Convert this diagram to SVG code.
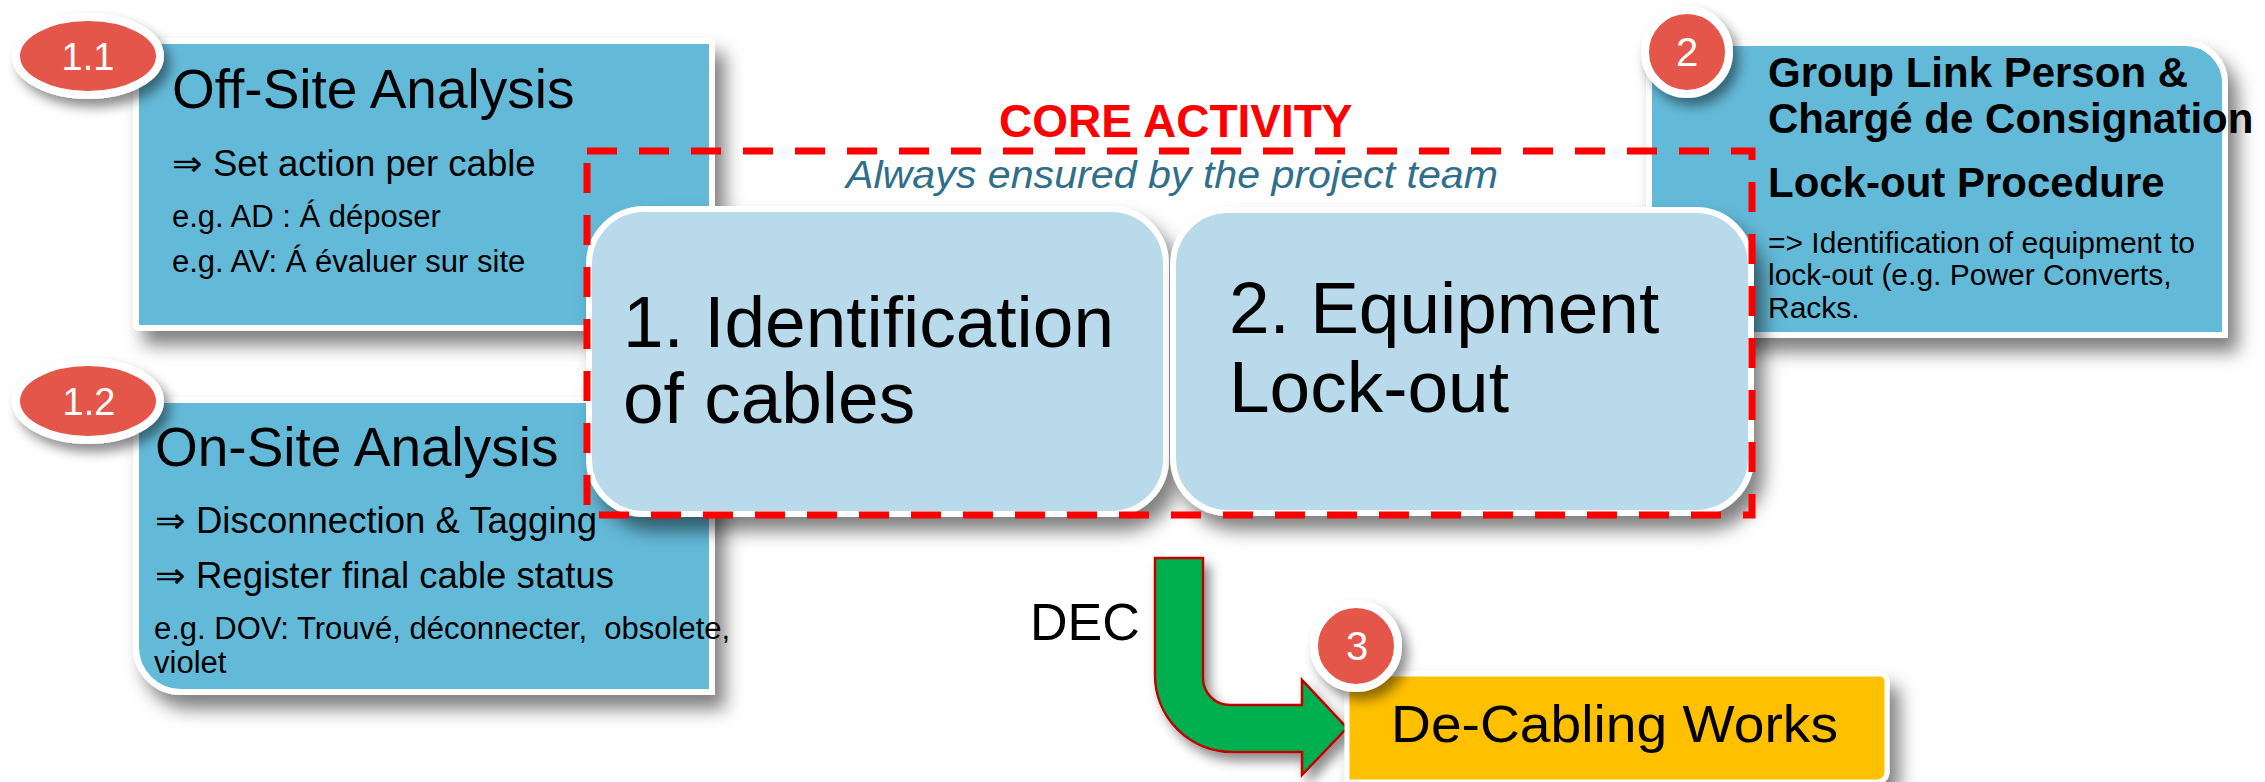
<svg xmlns="http://www.w3.org/2000/svg" width="2265" height="782" viewBox="0 0 2265 782">
<defs>
<style>
text{font-family:"Liberation Sans",Arial,sans-serif;fill:#000}
.box{fill:#64B9D8;stroke:#fff;stroke-width:6}
.node{fill:#B8DAEA;stroke:#fff;stroke-width:6}
.badge{fill:#E4564A;stroke:#fff;stroke-width:8}
.bt{fill:#fff;font-size:38px;text-anchor:middle}
.title{font-size:55px}
.item{font-size:36.5px}
.eg{font-size:31px}
.big{font-size:73px}
.b2{font-size:42px;font-weight:bold}
.sm{font-size:30px}
.arr{font-family:"DejaVu Sans",sans-serif}
</style>
<filter id="sh" x="-20%" y="-20%" width="150%" height="160%">
<feDropShadow dx="10" dy="14" stdDeviation="9" flood-color="#000" flood-opacity="0.5"/>
</filter>
<filter id="shs" x="-30%" y="-30%" width="170%" height="170%">
<feDropShadow dx="6" dy="8" stdDeviation="6" flood-color="#000" flood-opacity="0.45"/>
</filter>
</defs>
<rect width="2265" height="782" fill="#fff"/>

<g id="box-1-1">
<rect class="box" x="136" y="41" width="576" height="287" rx="4" filter="url(#sh)"/>
<text class="title" x="172" y="108">Off-Site Analysis</text>
<text class="item" y="176"><tspan class="arr" x="172">⇒</tspan><tspan x="213">Set action per cable</tspan></text>
<text class="eg" x="172" y="227">e.g. AD : Á déposer</text>
<text class="eg" x="172" y="272">e.g. AV: Á évaluer sur site</text>
</g>

<g id="box-1-2">
<path class="box" d="M136,400 H712 V692 H181 A45,45 0 0 1 136,647 Z" filter="url(#sh)"/>
<text class="title" x="155" y="466">On-Site Analysis</text>
<text class="item" y="533"><tspan class="arr" x="155">⇒</tspan><tspan x="196">Disconnection &amp; Tagging</tspan></text>
<text class="item" y="588"><tspan class="arr" x="155">⇒</tspan><tspan x="196">Register final cable status</tspan></text>
<text class="eg" x="154" y="639" xml:space="preserve">e.g. DOV: Trouvé, déconnecter,  obsolete,</text>
<text class="eg" x="154" y="673">violet</text>
</g>

<g id="box-2">
<path class="box" d="M1649,43 H2185 A40,40 0 0 1 2225,83 V335 H1649 Z" filter="url(#sh)"/>
<text class="b2" x="1768" y="87">Group Link Person &amp;</text>
<text class="b2" x="1768" y="133">Chargé de Consignation</text>
<text class="b2" x="1768" y="197">Lock-out Procedure</text>
<text class="sm" x="1768" y="253">=&gt; Identification of equipment to</text>
<text class="sm" x="1768" y="285">lock-out (e.g. Power Converts,</text>
<text class="sm" x="1768" y="318">Racks.</text>
</g>

<g id="node-1">
<rect class="node" x="589" y="209" width="577" height="305" rx="55" filter="url(#sh)"/>
<text class="big" x="623" y="347">1. Identification</text>
<text class="big" x="623" y="423">of cables</text>
</g>

<g id="node-2">
<rect class="node" x="1173" y="210" width="578" height="303" rx="55" filter="url(#sh)"/>
<text class="big" x="1229" y="333">2. Equipment</text>
<text class="big" x="1229" y="412">Lock-out</text>
</g>

<g id="core-activity">
<rect x="587" y="151" width="1165" height="364" fill="none" stroke="#FF0000" stroke-width="7" stroke-dasharray="30 22"/>
<text x="999" y="137" style="font-size:46px;font-weight:bold;fill:#FF0000">CORE ACTIVITY</text>
<text x="846" y="188" textLength="652" lengthAdjust="spacingAndGlyphs" style="font-size:39px;font-style:italic;fill:#2F6F8B">Always ensured by the project team</text>
</g>

<g id="connectors">
<path d="M1155,558 H1203 V678 A27,27 0 0 0 1230,705 H1302 V680 L1347,728 L1302,775 V752 H1232 A77,77 0 0 1 1155,675 Z" fill="#00B050" stroke="#C00000" stroke-width="2.5" stroke-linejoin="miter" filter="url(#shs)"/>
<text x="1030" y="640" style="font-size:52px">DEC</text>
</g>

<g id="box-3">
<path d="M1347,674 H1880 A7,7 0 0 1 1887,681 V772 A10,10 0 0 1 1877,782 H1347 Z" fill="#FFC000" stroke="#fff" stroke-width="5" filter="url(#sh)"/>
<text x="1391" y="742" textLength="447" lengthAdjust="spacingAndGlyphs" style="font-size:52px">De-Cabling Works</text>
</g>

<g id="badge-1-1">
<ellipse class="badge" cx="88" cy="56" rx="72" ry="39" filter="url(#shs)"/>
<text class="bt" x="88" y="70">1.1</text>
</g>
<g id="badge-1-2">
<ellipse class="badge" cx="88" cy="401" rx="72" ry="39" filter="url(#shs)"/>
<text class="bt" x="89" y="415">1.2</text>
</g>
<g id="badge-2">
<circle class="badge" cx="1687" cy="52" r="42" filter="url(#shs)"/>
<text class="bt" x="1687" y="66" style="font-size:40px">2</text>
</g>
<g id="badge-3">
<circle class="badge" cx="1356" cy="646" r="42" filter="url(#shs)"/>
<text class="bt" x="1357" y="660" style="font-size:40px">3</text>
</g>
</svg>
